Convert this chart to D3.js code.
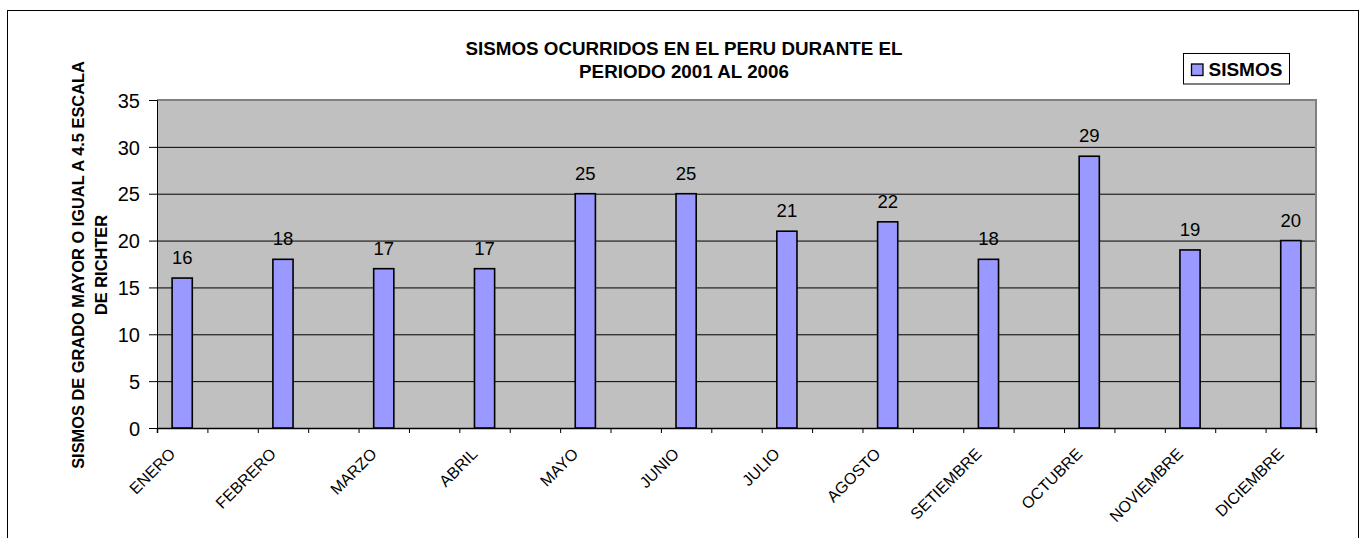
<!DOCTYPE html>
<html lang="es">
<head>
<meta charset="utf-8">
<style>
body {
  margin: 0;
  background: #fff;
  font-family: 'Liberation Sans', Arial, sans-serif;
}
.frame { fill: none; stroke: #000; stroke-width: 1; }
.plot-bg { fill: #c0c0c0; }
.grid line { stroke: #000; stroke-width: 1; }
.grid path { display: none; }
.bar { fill: #9999ff; stroke: #000; stroke-width: 1.6; }
.val { font-size: 18.5px; fill: #000; text-anchor: middle; }
.ytick text { font-size: 20px; fill: #000; }
.cat { font-size: 16px; fill: #000; text-anchor: end; }
.title { font-size: 18.8px; font-weight: bold; text-anchor: middle; }
.ytitle { font-size: 16.4px; font-weight: bold; text-anchor: middle; }
</style>
<title>Sismos Peru</title>
<script src="https://cdn.jsdelivr.net/npm/d3@7"></script>
</head>
<body>
<div id="chart"></div>
<script>

// datos
var months = ["ENERO", "FEBRERO", "MARZO", "ABRIL", "MAYO", "JUNIO", "JULIO",
              "AGOSTO", "SETIEMBRE", "OCTUBRE", "NOVIEMBRE", "DICIEMBRE"];
var sismos = [16, 18, 17, 17, 25, 25, 21, 22, 18, 29, 19, 20];
var yTicks = [0, 5, 10, 15, 20, 25, 30, 35];
var titleLines = ["SISMOS OCURRIDOS EN EL PERU DURANTE EL", "PERIODO 2001 AL 2006"];
var yTitleLines = ["SISMOS DE GRADO MAYOR O IGUAL A 4.5 ESCALA", "DE RICHTER"];
var seriesName = "SISMOS";

var W = 1362, H = 538;
var pL = 157, pR = 1316, pT = 100, pB = 428;

// the sheet had empty rows between months: 23 slots, bars on the even ones
var slots = d3.range(months.length * 2 - 1);

var x = d3.scaleBand().domain(slots).range([pL, pR]);
var xl = d3.scaleLinear().domain([0, slots.length]).range([pL, pR]);
var y = d3.scaleLinear().domain([0, 35]).range([pB, pT]);

var svg = d3.select("#chart").append("svg")
  .attr("width", W)
  .attr("height", H)
  .style("display", "block");

svg.append("rect")
  .attr("class", "frame")
  .attr("x", 7.5).attr("y", 10.5)
  .attr("width", 1351).attr("height", 560);

svg.append("rect")
  .attr("class", "plot-bg")
  .attr("x", pL).attr("y", pT)
  .attr("width", pR - pL).attr("height", pB - pT);

// gridlines
svg.append("g")
  .attr("class", "grid")
  .attr("transform", "translate(" + pL + ",0)")
  .call(d3.axisLeft(y).tickValues(yTicks.filter(function(t){ return t > 0 && t < 35; }))
        .tickSize(-(pR - pL)).tickFormat(""));

// plot border top/right in gray
svg.append("path")
  .attr("d", "M" + pL + "," + pT + "H" + pR + "V" + pB)
  .attr("fill", "none")
  .attr("stroke", "#808080")
  .attr("stroke-width", 2);

// y axis
var yAxis = svg.append("g")
  .attr("class", "ytick")
  .attr("transform", "translate(" + pL + ",0)")
  .call(d3.axisLeft(y).tickValues(yTicks).tickSize(8).tickPadding(9));
yAxis.select(".domain").attr("stroke", "#000");
yAxis.selectAll(".tick line").attr("stroke", "#000");
yAxis.selectAll(".tick text")
  .attr("dy", "0.36em");
yAxis.attr("font-family", null).attr("font-size", null);

// x axis
var xAxis = svg.append("g")
  .attr("transform", "translate(0," + pB + ")")
  .call(d3.axisBottom(xl).tickValues(d3.range(slots.length + 1)).tickSize(5).tickFormat(""));
xAxis.select(".domain").attr("stroke", "#000").attr("stroke-width", 1.5);
xAxis.selectAll(".tick line").attr("stroke", "#000");

// bars
var bw = x.bandwidth() * 0.4;
svg.selectAll(".bar")
  .data(sismos)
  .enter()
  .append("rect")
  .attr("class", "bar")
  .attr("x", function(d, i){ return x(i * 2) + (x.bandwidth() - bw) / 2; })
  .attr("y", function(d){ return y(d); })
  .attr("width", bw)
  .attr("height", function(d){ return pB - y(d); });

// value labels
svg.selectAll(".val")
  .data(sismos)
  .enter()
  .append("text")
  .attr("class", "val")
  .attr("x", function(d, i){ return x(i * 2) + x.bandwidth() / 2; })
  .attr("y", function(d){ return y(d) - 14; })
  .text(function(d){ return d; });

// category labels, rotated
svg.selectAll(".cat")
  .data(months)
  .enter()
  .append("text")
  .attr("class", "cat")
  .attr("transform", function(d, i){
    var cx = x(i * 2) + x.bandwidth() / 2 - 6;
    return "translate(" + cx + "," + (pB + 27) + ")rotate(-45)";
  })
  .text(function(d){ return d; });

// title
svg.selectAll(".title")
  .data(titleLines)
  .enter()
  .append("text")
  .attr("class", "title")
  .attr("x", 684)
  .attr("y", function(d, i){ return 55 + i * 23.3; })
  .text(function(d){ return d; });

// y title
svg.selectAll(".ytitle")
  .data(yTitleLines)
  .enter()
  .append("text")
  .attr("class", "ytitle")
  .attr("transform", function(d, i){
    return "translate(" + (83.5 + i * 23.2) + ",265)rotate(-90)";
  })
  .text(function(d){ return d; });

// legend
var legend = svg.append("g");
legend.append("rect")
  .attr("x", 1183.5).attr("y", 53.5)
  .attr("width", 106).attr("height", 30.5)
  .attr("fill", "#fff").attr("stroke", "#000");
legend.append("rect")
  .attr("x", 1191.5).attr("y", 64)
  .attr("width", 11.5).attr("height", 11.5)
  .attr("fill", "#9999ff").attr("stroke", "#000").attr("stroke-width", 1.3);
legend.append("text")
  .attr("x", 1208.5).attr("y", 76)
  .attr("font-size", "19px").attr("font-weight", "bold")
  .text(seriesName);

</script>
</body>
</html>
